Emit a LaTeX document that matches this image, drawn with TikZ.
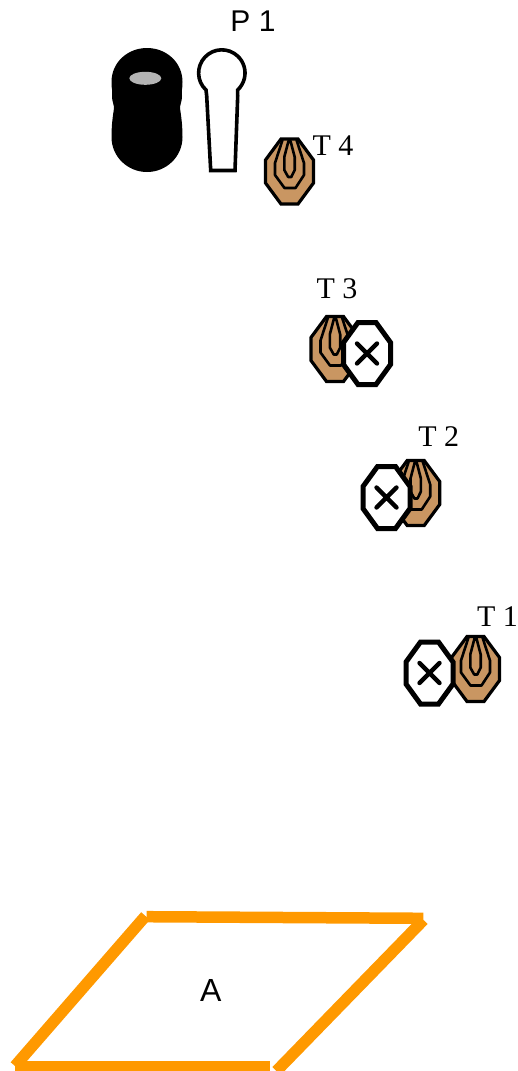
\documentclass[tikz,border=0pt]{standalone}
\usepackage{fontspec}
\setmainfont{Liberation Serif}
\newfontfamily\arialf{Liberation Sans}
\definecolor{tan1}{HTML}{C99662}
\definecolor{zoneor}{HTML}{FF9900}
\definecolor{holeg}{HTML}{B4B4B4}
\tikzset{
  labelserif/.style={font=\fontsize{30}{30}\selectfont, anchor=base, inner sep=0pt},
  labelsans/.style={font=\arialf\fontsize{30}{30}\selectfont, anchor=base, inner sep=0pt},
  zonelabel/.style={font=\arialf\fontsize{32}{32}\selectfont, anchor=base, inner sep=0pt},
  zoneline/.style={draw=zoneor, line width=11.5pt, line cap=butt},
  browntarget/.pic={
    \draw[fill=tan1, draw=black, line width=3.2pt, line join=miter]
      (-8.5,-32)--(8.5,-32)--(24,-11)--(24,12)--(8.5,33)--(-8.5,33)--(-24,12)--(-24,-11)--cycle;
    \draw[black, line width=2.6pt, line join=round]
      (-7,-31)--(-14.5,-8)--(-14.5,4)--(-5,17)--(6,17)--(14.5,4)--(14.5,-8)--(7,-31);
    \draw[black, line width=2.6pt, line join=round]
      (-1,-30)--(1,-30)--(5.2,-14)--(5.2,-1)--(1.8,6)--(-1.3,6)--(-5.2,-1)--(-5.2,-14)--cycle;
  },
  whitetarget/.pic={
    \draw[fill=white, draw=black, line width=5pt, line join=miter]
      (-9,-31)--(9,-31)--(23.5,-11)--(23.5,11)--(9,31)--(-9,31)--(-23.5,11)--(-23.5,-11)--cycle;
    \draw[black, line width=4.4pt, line cap=round] (-10,-10)--(10,10) (-10,10)--(10,-10);
  }
}
\begin{document}
\begin{tikzpicture}[x=1pt,y=-1pt]
\useasboundingbox (0,0) rectangle (518,1071);
% black barrel stack
\fill[black]
  (147,48) .. controls (166,48) and (182.5,62) .. (182.5,82)
  .. controls (182.5,90) and (181,92) .. (182,96)
  .. controls (182,102) and (180,104) .. (180,107)
  .. controls (180,111) and (182.5,120) .. (182.5,137)
  .. controls (182.5,157) and (166,172) .. (147,172)
  .. controls (128,172) and (111.5,157) .. (111.5,137)
  .. controls (111.5,120) and (114,111) .. (114,107)
  .. controls (114,104) and (112,102) .. (112,96)
  .. controls (113,92) and (111.5,90) .. (111.5,82)
  .. controls (111.5,62) and (128,48) .. (147,48) -- cycle;
\fill[holeg] (145.3,78.3) ellipse [x radius=16, y radius=6.5];
% pin
\draw[black, line width=3.6pt, fill=white, line join=miter]
  (206,90) arc[start angle=133, end angle=407, radius=23.2]
  -- (237.7,96) -- (235,170.5) -- (210.7,170.5) -- (206.7,96) -- cycle;
% targets
\pic at (289.5,171) {browntarget};
\pic at (335,348.5) {browntarget};
\pic at (367,353.5) {whitetarget};
\pic at (415.7,492.5) {browntarget};
\pic at (386.5,497.5) {whitetarget};
\pic at (475.5,668.5) {browntarget};
\pic at (429.5,673) {whitetarget};
% labels
\node[labelsans] (p1) at (253,31.7) {P 1};
\node[labelserif] (t4) at (333,155) {T 4};
\node[labelserif] (t3) at (337,298) {T 3};
\node[labelserif] (t2) at (438.7,446) {T 2};
\node[labelserif] (t1) at (497.5,626) {T 1};
% shooting box
\draw[zoneline] (146.7,916.7) -- (423.3,918.3);
\draw[zoneline] (145.5,916) -- (15,1066);
\draw[zoneline] (15,1067) -- (269.5,1067);
\draw[zoneline] (423.5,920) -- (276.5,1071);
\node[zonelabel] (a) at (210.7,1001.7) {A};
\end{tikzpicture}
\end{document}
